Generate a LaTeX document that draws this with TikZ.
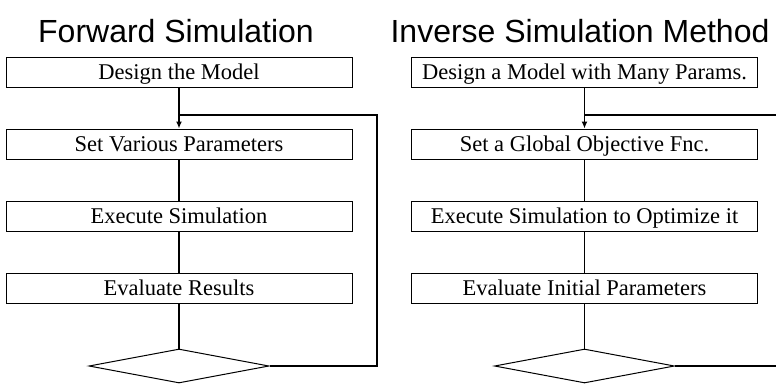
\documentclass[tikz,border=0pt]{standalone}
\usepackage{fontspec}
\setmainfont{Liberation Serif}
\newfontfamily\titlefont{Liberation Sans}
\usetikzlibrary{shapes.geometric,arrows.meta}

\tikzset{
  stepbox/.style={draw=black, line width=1pt, rectangle, inner sep=0pt,
    minimum width=346pt, minimum height=30pt,
    text height=15.5pt, text depth=0.5pt,
    font=\fontsize{22.5}{27}\selectfont},
  decision/.style={draw=black, line width=1pt, diamond, inner sep=0pt,
    minimum width=180pt, minimum height=34pt},
  heading/.style={font=\titlefont\fontsize{32}{38}\selectfont, anchor=base, inner sep=0pt},
  flow/.style={line width=1.8pt},
  flowarrow/.style={line width=1.8pt, -{Latex[length=7pt,width=6pt]}}
}

\begin{document}
\begin{tikzpicture}[x=1pt, y=-1pt]
  \useasboundingbox (0,0) rectangle (776,383);

  % headings
  \node[heading] (tl) at (176,42) {Forward Simulation};
  \node[heading] (tr) at (580,42) {Inverse Simulation Method};

  % forward simulation column
  \node[stepbox] (f1) at (179,72)  {Design the Model};
  \node[stepbox] (f2) at (179,144) {Set Various Parameters};
  \node[stepbox] (f3) at (179,216) {Execute Simulation};
  \node[stepbox] (f4) at (179,288) {Evaluate Results};
  \node[decision] (fd) at (179,366) {};

  \coordinate (fj) at (179,115);
  \coordinate (fr1) at (377,115);
  \coordinate (fr2) at (377,366);

  \draw[flow] (f1.south) -- (fj);
  \draw[flowarrow] (fj) -- (f2.north);
  \draw[flow] (f2) -- (f3);
  \draw[flow] (f3) -- (f4);
  \draw[flow] (f4) -- (fd);
  \draw[flow] (fd.east) -- (fr2) -- (fr1) -- (fj);

  % inverse simulation column
  \node[stepbox] (i1) at (584.5,72)  {Design a Model with Many Params.};
  \node[stepbox] (i2) at (584.5,144) {Set a Global Objective Fnc.};
  \node[stepbox] (i3) at (584.5,216) {Execute Simulation to Optimize it};
  \node[stepbox] (i4) at (584.5,288) {Evaluate Initial Parameters};
  \node[decision] (id) at (584.5,366) {};

  \coordinate (ij) at (584.5,115);
  \coordinate (ir1) at (776,115);
  \coordinate (ir2) at (776,366);

  \draw[flow] (i1.south) -- (ij);
  \draw[flowarrow] (ij) -- (i2.north);
  \draw[flow] (i2) -- (i3);
  \draw[flow] (i3) -- (i4);
  \draw[flow] (i4) -- (id);
  \draw[flow] (id.east) -- (ir2);
  \draw[flow] (ij) -- (ir1);
\end{tikzpicture}
\end{document}
